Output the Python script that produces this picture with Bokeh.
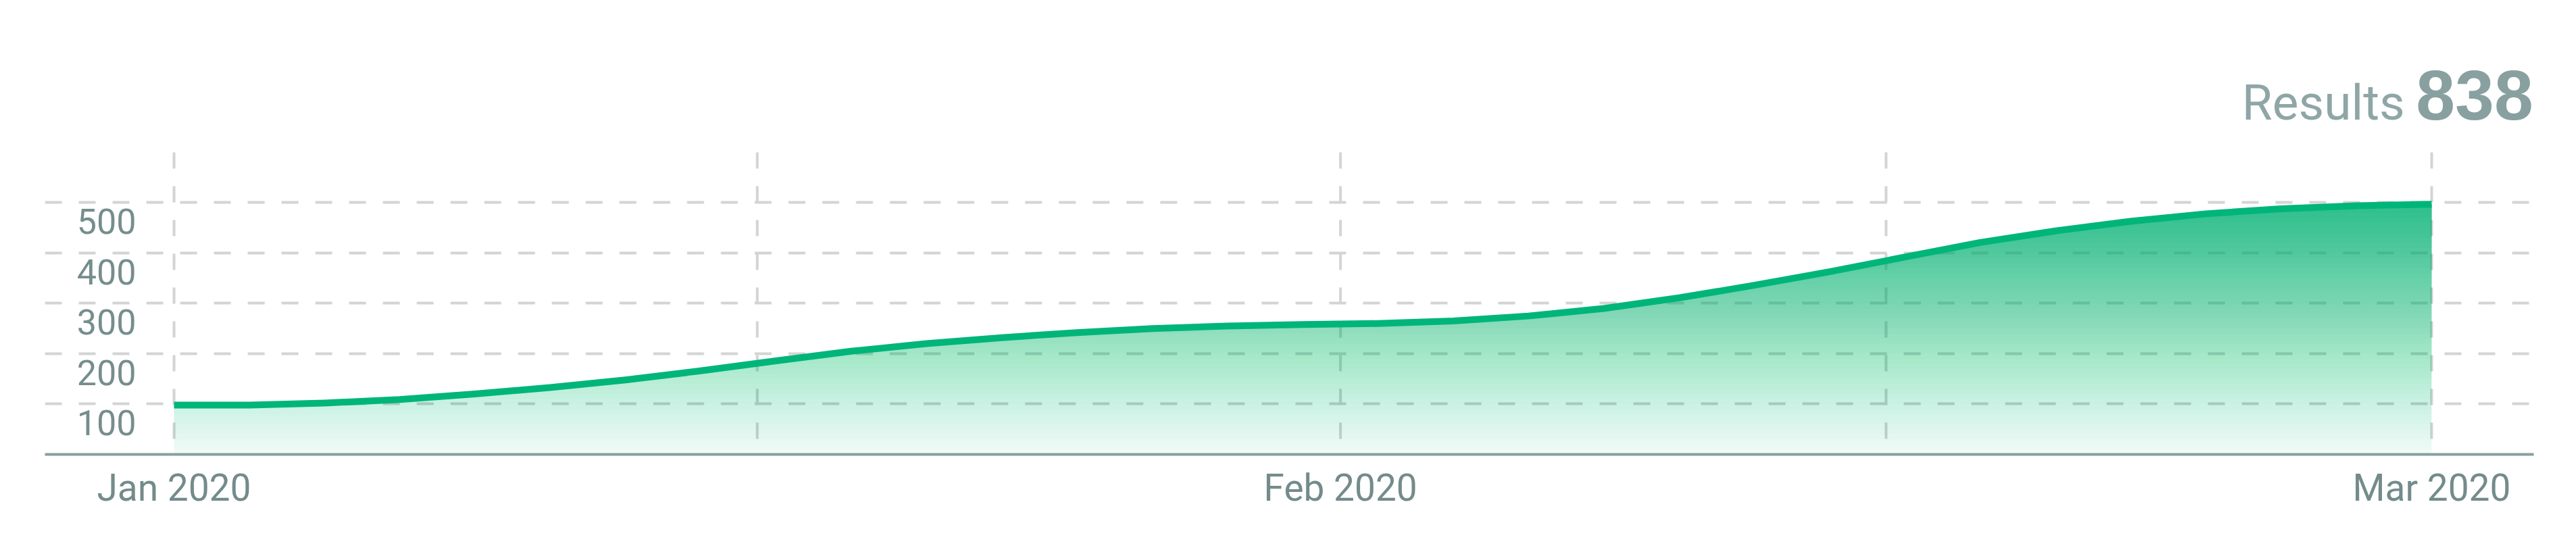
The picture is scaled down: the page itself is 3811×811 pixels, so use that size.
import numpy as np
import pandas as pd
from bokeh.plotting import figure
from bokeh.models import FixedTicker, Range1d
from bokeh.core.properties import value
from bokeh.embed import file_html
from bokeh.resources import INLINE

# ---- data ----
dates = [
    "2020-01-01", "2020-01-03", "2020-01-05", "2020-01-07", "2020-01-09",
    "2020-01-11", "2020-01-13", "2020-01-15", "2020-01-17", "2020-01-19",
    "2020-01-21", "2020-01-23", "2020-01-25", "2020-01-27", "2020-01-29",
    "2020-01-31", "2020-02-02", "2020-02-04", "2020-02-06", "2020-02-08",
    "2020-02-10", "2020-02-12", "2020-02-14", "2020-02-16", "2020-02-18",
    "2020-02-20", "2020-02-22", "2020-02-24", "2020-02-26", "2020-02-28",
    "2020-03-01",
]
values = [98, 98, 102, 109, 120, 133, 148, 166, 186, 205,
          220, 232, 242, 250, 255, 258, 260, 265, 275, 290,
          311, 336, 363, 392, 421, 444, 463, 478, 488, 494, 497]

tick_dates = ["2020-01-01", "2020-02-01", "2020-03-01"]
tick_labels = ["Jan 2020", "Feb 2020", "Mar 2020"]
y_ticks = [100, 200, 300, 400, 500]
grid_top = 600
title_text = "Results"
total_text = "838"

# ---- derived ----
origin = pd.Timestamp(dates[0])
xd = np.array([(pd.Timestamp(d) - origin).days for d in dates], dtype=float)
vals = np.array(values, dtype=float)
tick_days = [float((pd.Timestamp(d) - origin).days) for d in tick_dates]
grid_days = sorted(tick_days + [(a + b) / 2 for a, b in zip(tick_days[:-1], tick_days[1:])])

p = figure(width=3811, height=811, output_backend="svg", toolbar_location=None,
           x_range=Range1d(-3.431, 62.713), y_range=Range1d(0, 902),
           y_axis_location=None,
           min_border_left=66, min_border_right=63, min_border_top=0, min_border_bottom=139,
           background_fill_color="white", border_fill_color="white",
           outline_line_color=None)

# grids
p.xgrid.visible = False
p.ygrid.ticker = FixedTicker(ticks=y_ticks)
p.ygrid.grid_line_color = "#d4d4d4"
p.ygrid.grid_line_width = 4
p.ygrid.grid_line_dash = "25 25"
p.segment(x0=grid_days, y0=[grid_top] * len(grid_days), x1=grid_days, y1=[0] * len(grid_days),
          line_color="#d4d4d4", line_width=4, line_dash="24 26")

# gradient area: stacked translucent layers
base = "#00b67a"
levels = np.arange(0, 500, 10)
target = 0.06 + 0.72 * (levels / 500.0)
prev = 0.0
for L, O in zip(levels, target):
    a = 1 - (1 - O) / (1 - prev)
    prev = O
    p.varea(x=xd, y1=np.minimum(vals, L), y2=vals, fill_color=base, fill_alpha=float(a))

p.line(xd, vals, line_color="#00b57a", line_width=10, line_join="round")

# y labels (sit just below their grid lines)
p.text(x=[xd[0]] * len(y_ticks), y=y_ticks, text=[str(t) for t in y_ticks],
       text_font=value("Roboto"), text_font_size="52px", text_color="#768d8d",
       text_align="right", text_baseline="alphabetic", x_offset=-56, y_offset=28)

# x axis
ax = p.xaxis[0]
ax.ticker = FixedTicker(ticks=tick_days)
ax.major_label_overrides = {d: l for d, l in zip(tick_days, tick_labels)}
ax.axis_line_color = "#8a9f9f"
ax.axis_line_width = 4
ax.major_tick_line_color = None
ax.minor_tick_line_color = None
ax.major_label_text_font = "Roboto"
ax.major_label_text_font_size = "55px"
ax.major_label_text_color = "#748b8b"
ax.major_label_standoff = 11

# title "Results 838"
p.text(x=[62.70], y=[714], text=[total_text], text_align="right",
       text_baseline="alphabetic", text_font=value("Liberation Sans"),
       text_font_style="bold", text_font_size="104px", text_color="#89a0a0")
p.text(x=[62.70], y=[698], x_offset=-190, text=[title_text], text_align="right",
       text_baseline="alphabetic", text_font=value("Roboto"),
       text_font_size="73px", text_color="#8fa6a6")

open("out.html", "w").write(file_html(p, INLINE))
